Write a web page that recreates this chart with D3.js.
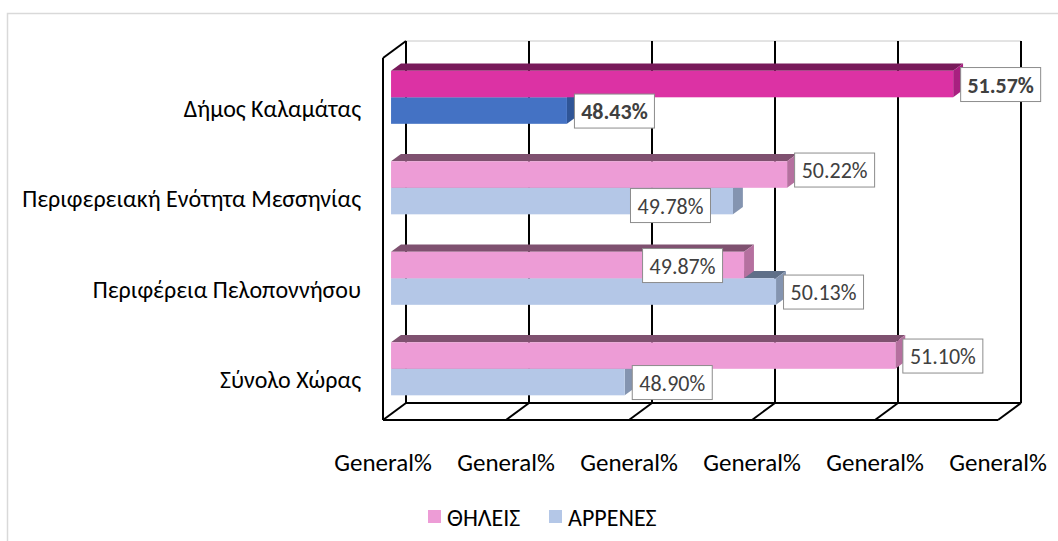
<!DOCTYPE html>
<html>
<head>
<meta charset="utf-8">
<script src="https://cdn.jsdelivr.net/npm/d3@7"></script>
<style>
  body { margin: 0; background: #fff; }
  svg { display: block; font-family: Carlito, Calibri, 'Open Sans', sans-serif; }
</style>
</head>
<body>
<svg id="chart" width="1058" height="541"></svg>
<script>
const categories = ['Δήμος Καλαμάτας', 'Περιφερειακή Ενότητα Μεσσηνίας', 'Περιφέρεια Πελοποννήσου', 'Σύνολο Χώρας'];
const seriesNames = ['ΘΗΛΕΙΣ', 'ΆΡΡΕΝΕΣ'];
const females = [51.57, 50.22, 49.87, 51.10];
const males = [48.43, 49.78, 50.13, 48.90];
const tickValues = [47, 48, 49, 50, 51, 52];
const tickLabels = ['General%', 'General%', 'General%', 'General%', 'General%', 'General%'];

const svg = d3.select('#chart');

// depth of the 3d box
const DX = 23;
const DY = 17;
const proj = (x, y, z) => [x + z * DX, y - z * DY];

const x = d3.scaleLinear().domain([47, 52]).range([383, 998]);
const y = d3.scaleBand().domain(categories).range([58, 420]).paddingInner(0.414).paddingOuter(0.207);
const ySub = d3.scaleBand().domain(['f', 'm']).range([0, y.bandwidth()]);

// bar depth position
const z0 = 0.35;
const z1 = 0.78;

// colours: [front, top, side]
const palette = {
  f: ['#ED9CD6', '#7F5170', '#B5709F'],
  m: ['#B4C7E7', '#5F6F88', '#8494B0']
};
const highlight = {
  f: ['#DC32A4', '#781A5A', '#A82080'],
  m: ['#4472C4', '#2F5597', '#2F5597']
};

// outer frame
svg.append('rect')
  .attr('x', 7.5).attr('y', 13.5)
  .attr('width', 1060).attr('height', 540)
  .attr('fill', 'none').attr('stroke', '#d9d9d9').attr('stroke-width', 1.5);

const plotTop = y.range()[0];
const plotBottom = y.range()[1];
const wall = svg.append('g').attr('fill', 'none');

// back wall top edge
const [bx0, by0] = proj(x(47), plotTop, 1);
const [bx1] = proj(x(52), plotTop, 1);
wall.append('line')
  .attr('x1', bx0).attr('y1', by0).attr('x2', bx1).attr('y2', by0)
  .attr('stroke', '#c8c8c8').attr('stroke-width', 1);

// gridlines on back wall
tickValues.forEach(v => {
  const [gx, gy0] = proj(x(v), plotTop, 1);
  const [, gy1] = proj(x(v), plotBottom, 1);
  wall.append('line')
    .attr('x1', gx).attr('y1', gy0).attr('x2', gx).attr('y2', gy1)
    .attr('stroke', '#000').attr('stroke-width', 2);
});

// floor
const [fbx0, fby] = proj(x(47), plotBottom, 1);
const [fbx1] = proj(x(52), plotBottom, 1);
wall.append('line')
  .attr('x1', fbx0).attr('y1', fby).attr('x2', fbx1).attr('y2', fby)
  .attr('stroke', '#000').attr('stroke-width', 2);
wall.append('line')
  .attr('x1', x(47)).attr('y1', plotBottom).attr('x2', x(52)).attr('y2', plotBottom)
  .attr('stroke', '#000').attr('stroke-width', 2);
tickValues.forEach(v => {
  const [ex, ey] = proj(x(v), plotBottom, 1);
  wall.append('line')
    .attr('x1', x(v)).attr('y1', plotBottom).attr('x2', ex).attr('y2', ey)
    .attr('stroke', '#000').attr('stroke-width', 2);
});

// side wall (left)
wall.append('line')
  .attr('x1', x(47)).attr('y1', plotTop).attr('x2', x(47)).attr('y2', plotBottom)
  .attr('stroke', '#000').attr('stroke-width', 2);
wall.append('line')
  .attr('x1', x(47)).attr('y1', plotTop).attr('x2', bx0).attr('y2', by0)
  .attr('stroke', '#000').attr('stroke-width', 2);

// bars
const bars = svg.append('g');

function drawBar(value, yTop, h, colors) {
  const xs = x(47);
  const xe = x(value);
  const p = (px, py, pz) => proj(px, py, pz).join(',');
  const yb = yTop + h;

  bars.append('polygon')
    .attr('points', [p(xs, yTop, z0), p(xs, yTop, z1), p(xe, yTop, z1), p(xe, yTop, z0)].join(' '))
    .attr('fill', colors[1]);
  bars.append('polygon')
    .attr('points', [p(xe, yTop, z0), p(xe, yTop, z1), p(xe, yb, z1), p(xe, yb, z0)].join(' '))
    .attr('fill', colors[2]);
  const [fx0, fy0] = proj(xs, yTop, z0);
  const [fx1] = proj(xe, yTop, z0);
  bars.append('rect')
    .attr('x', fx0).attr('y', fy0)
    .attr('width', fx1 - fx0).attr('height', h)
    .attr('fill', colors[0]);
}

categories.forEach((cat, i) => {
  const colors = i === 0 ? highlight : palette;
  drawBar(males[i], y(cat) + ySub('m'), ySub.bandwidth(), colors.m);
  drawBar(females[i], y(cat) + ySub('f'), ySub.bandwidth(), colors.f);
});

// data labels
const labelNudge = {
  '1m': { dx: -110, dy: 4 },
  '1f': { dx: 0, dy: -5 },
  '2f': { dx: -109, dy: 0 }
};

const labels = svg.append('g');

function drawLabel(value, yTop, h, key, bold) {
  const nudge = labelNudge[key] || { dx: 0, dy: 0 };
  const [ex, ey] = proj(x(value), yTop + h / 2, z0);
  const bw = 80;
  const bh = 34;
  const lx = ex + 7 + nudge.dx;
  const ly = ey - bh / 2 + nudge.dy;
  labels.append('rect')
    .attr('x', lx + 0.5).attr('y', ly + 0.5)
    .attr('width', bw).attr('height', bh)
    .attr('fill', '#fff').attr('stroke', '#8c8c8c').attr('stroke-width', 1);
  labels.append('text')
    .attr('x', lx + bw / 2 + 0.5).attr('y', ly + bh / 2 + 1)
    .attr('text-anchor', 'middle')
    .attr('dominant-baseline', 'central')
    .attr('font-size', 22)
    .attr('font-weight', bold ? 'bold' : 'normal')
    .attr('fill', '#404040')
    .text(value.toFixed(2) + '%');
}

categories.forEach((cat, i) => {
  drawLabel(females[i], y(cat) + ySub('f'), ySub.bandwidth(), i + 'f', i === 0);
  drawLabel(males[i], y(cat) + ySub('m'), ySub.bandwidth(), i + 'm', i === 0);
});

// category labels
svg.append('g')
  .selectAll('text')
  .data(categories)
  .join('text')
  .attr('x', 361)
  .attr('y', d => y(d) + y.bandwidth() / 2 + 5)
  .attr('text-anchor', 'end')
  .attr('dominant-baseline', 'central')
  .attr('font-size', 24)
  .attr('fill', '#000')
  .text(d => d);

// value axis labels
svg.append('g')
  .selectAll('text')
  .data(tickValues)
  .join('text')
  .attr('x', d => x(d))
  .attr('y', 462)
  .attr('text-anchor', 'middle')
  .attr('dominant-baseline', 'central')
  .attr('font-size', 25)
  .attr('fill', '#000')
  .text((d, i) => tickLabels[i]);

// legend
const legendX = [428, 549];
const legendColors = [palette.f[0], palette.m[0]];
const legend = svg.append('g');
seriesNames.forEach((name, i) => {
  legend.append('rect')
    .attr('x', legendX[i]).attr('y', 510)
    .attr('width', 13).attr('height', 13)
    .attr('fill', legendColors[i]);
  legend.append('text')
    .attr('x', legendX[i] + 19).attr('y', 517)
    .attr('dominant-baseline', 'central')
    .attr('font-size', 24)
    .attr('fill', '#000')
    .text(name);
});
</script>
</body>
</html>
